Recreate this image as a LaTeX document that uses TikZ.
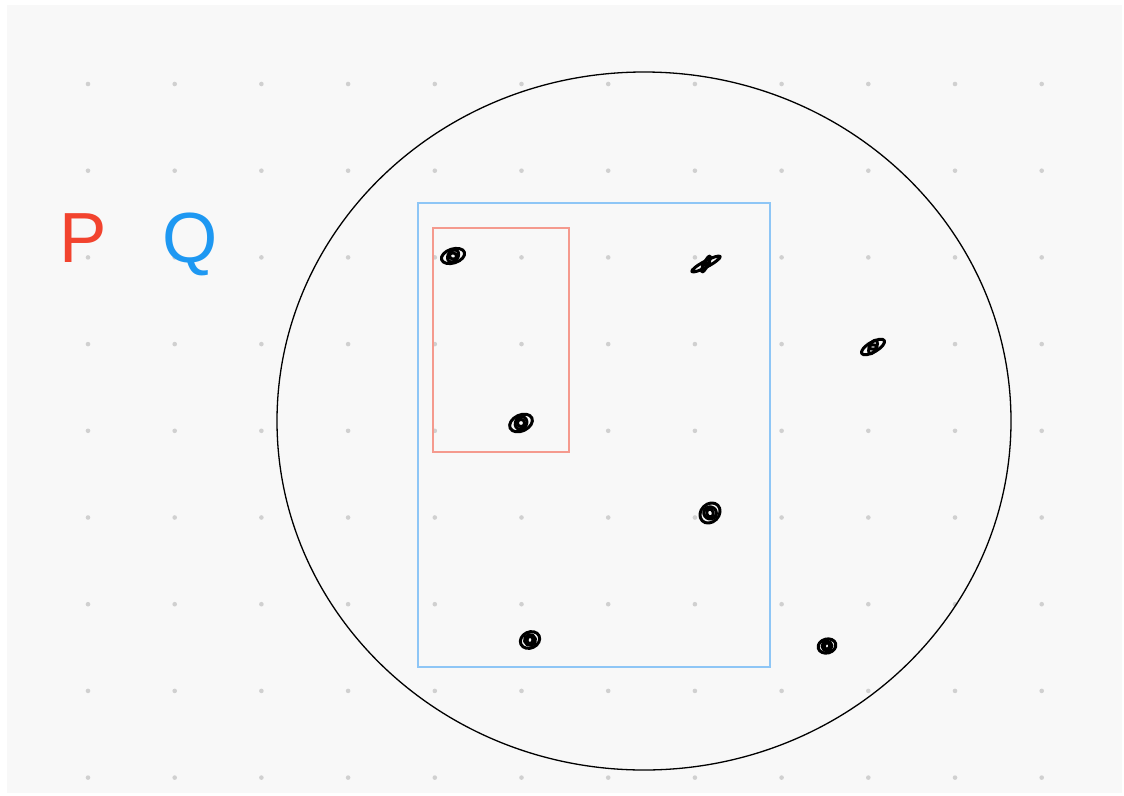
\documentclass[tikz,border=0pt]{standalone}
\usepackage{fontspec}
\setmainfont{Liberation Sans}
\definecolor{bgcol}{HTML}{F8F8F8}
\definecolor{dotcol}{HTML}{D0D0D0}
\definecolor{pcol}{HTML}{F2432E}
\definecolor{qcol}{HTML}{1E98F2}
\definecolor{pbox}{HTML}{F59A8E}
\definecolor{qbox}{HTML}{8EC6F6}
\begin{document}
\begin{tikzpicture}[x=1pt, y=-1pt,
    scribble/.style={line width=3pt, line join=round, line cap=round},
    setlabel/.style={anchor=base, inner sep=0pt, font=\fontsize{71}{71}\selectfont}]
        \useasboundingbox (0,0) rectangle (1124,795);
        \fill [bgcol] (7,5) rectangle (1122,793);
        % Grid dots
        \foreach \i in {0,...,11}
            \foreach \j in {0,...,8}
                \fill [dotcol] ({88+86.7*\i}, {84+86.7*\j}) circle (2.3);
        % Universe and the two sets
        \draw [line width=1.3pt] (644,421) ellipse [x radius=367, y radius=349];
        \draw [qbox, line width=2.4pt] (418,203) rectangle (770,667);
        \draw [pbox, line width=2.4pt] (433,228) rectangle (569,452);
        \node [setlabel, text=pcol] (P) at (83,262) {P};
        \node [setlabel, text=qcol] (Q) at (190,262) {Q};
        % Elements
        \coordinate (s1) at (453,256);
        \coordinate (s2) at (706,264);
        \coordinate (s3) at (873,347);
        \coordinate (s4) at (521,423);
        \coordinate (s5) at (710,513);
        \coordinate (s6) at (530,640);
        \coordinate (s7) at (827,646);
        \foreach \s/\a/\rx/\ry in {s1/18/12/7, s2/28/16/3, s3/30/13/5, s4/25/12/8,
                                   s5/45/11/9, s6/25/10/8, s7/15/9/7}{
            \draw [scribble, rotate around={\a:(\s)}] (\s) ellipse [x radius=\rx, y radius=\ry];
            \draw [scribble, rotate around={\a+35:(\s)}] (\s) ellipse [x radius=0.55*\rx, y radius=0.7*\ry];
            \draw [scribble, rotate around={\a-30:(\s)}] (\s) ellipse [x radius=0.3*\rx, y radius=0.45*\ry];
        }
\end{tikzpicture}
\end{document}
